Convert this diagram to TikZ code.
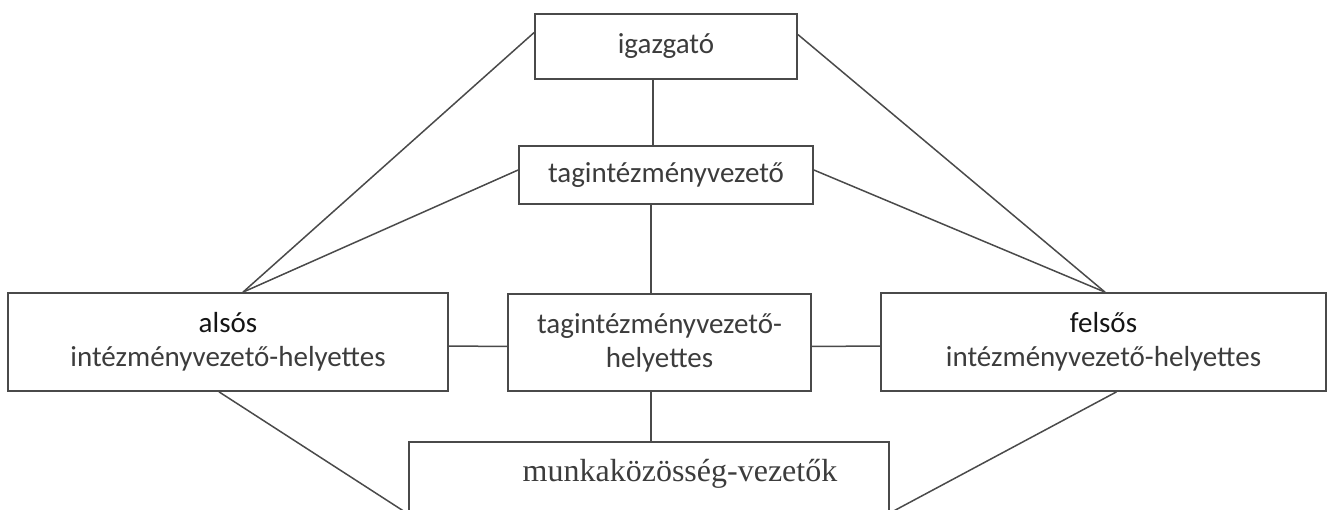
\documentclass[tikz,border=0pt]{standalone}
\usepackage{fontspec}
\setmainfont{Carlito}
\newfontfamily\serifface{Liberation Serif}
\definecolor{linec}{HTML}{4A4A4A}
\definecolor{txtc}{HTML}{3C3C3C}
\definecolor{boldc}{HTML}{151515}
\begin{document}
\begin{tikzpicture}[x=1pt,y=-1pt,
  box/.style={draw=linec,line width=1.7pt,inner sep=0pt,align=center,text=txtc,font=\fontsize{29}{34}\selectfont},
  conn/.style={draw=linec,line width=1.5pt}]
\useasboundingbox (0,0) rectangle (1328,510);
\clip (0,0) rectangle (1328,510);
\node[box,minimum width=262pt,minimum height=65pt] (ig) at (666,46.5) {igazgató};
\node[box,minimum width=294pt,minimum height=58pt] (tag) at (666,175) {tagintézményvezető};
\node[box,minimum width=440pt,minimum height=98pt] (als) at (228,342) {\textcolor{boldc}{alsós}\\intézményvezető-helyettes};
\node[box,minimum width=303pt,minimum height=97pt] (tagh) at (659.5,342.5) {tagintézményvezető-\\helyettes};
\node[box,minimum width=445pt,minimum height=98pt] (fel) at (1103.5,342) {\textcolor{boldc}{felsős}\\intézményvezető-helyettes};
\node[box,minimum width=480pt,minimum height=100pt] (mk) at (649,492) {};
\node[text=txtc,font=\serifface\fontsize{32}{38}\selectfont,inner sep=0pt] (mkt) at (680,474) {munkaközösség-vezetők};
\coordinate (v1) at (653,0);
\coordinate (v2) at (651,0);
\draw[conn] (ig.south -| v1) -- (tag.north -| v1);
\draw[conn] (tag.south -| v2) -- (tagh.north -| v2);
\draw[conn] (tagh.south -| v2) -- (mk.north -| v2);
\draw[conn] ([yshift=14pt]ig.west) -- ([xshift=15pt]als.north);
\draw[conn] ([yshift=5pt]tag.west) -- ([xshift=15pt]als.north);
\draw[conn] ([yshift=12pt]ig.east) -- ([xshift=1.5pt]fel.north);
\draw[conn] ([yshift=5pt]tag.east) -- ([xshift=1.5pt]fel.north);
\draw[conn] ([yshift=-4pt]als.east) -- ([yshift=-4pt]tagh.west);
\draw[conn] ([yshift=-4pt]tagh.east) -- ([yshift=-4pt]fel.west);
\draw[conn] ([xshift=-9pt]als.south) -- ([yshift=-22pt]mk.west);
\draw[conn] ([xshift=13pt]fel.south) -- ([yshift=-21pt]mk.east);
\end{tikzpicture}
\end{document}
